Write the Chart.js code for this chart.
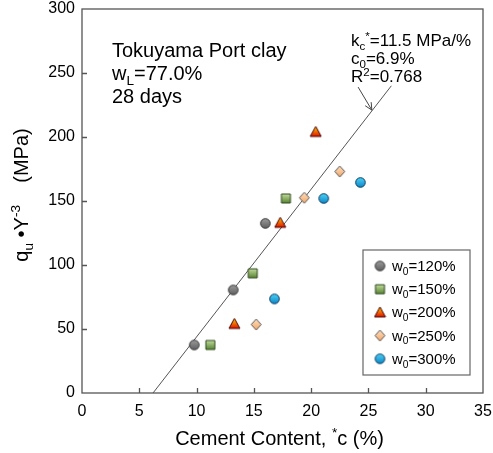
<!DOCTYPE html>
<html>
<head>
<meta charset="utf-8">
<script src="https://cdn.jsdelivr.net/npm/chart.js@4/dist/chart.umd.min.js"></script>
<style>
  html, body { margin: 0; padding: 0; background: #fff; }
</style>
</head>
<body>
<canvas id="chart" width="493" height="453"></canvas>
<script>
// data: cement content (%) vs qu*gamma^-3 (MPa)
const seriesNames = ['120%', '150%', '200%', '250%', '300%'];
const cement120 = [9.8, 13.2, 16.0];
const qu120 = [37.5, 80.5, 132.5];
const cement150 = [11.2, 14.9, 17.8];
const qu150 = [37.5, 93.5, 152];
const cement200 = [13.3, 17.3, 20.4];
const qu200 = [54, 133, 204];
const cement250 = [15.2, 19.4, 22.5];
const qu250 = [53.5, 152.5, 173];
const cement300 = [16.8, 21.1, 24.3];
const qu300 = [73.5, 152, 164.5];
// fitted line end points and arrow pointing at it
const fitX = [6.2, 27.0];
const fitY = [0, 240];
const arrowX = [24.1, 25.3];
const arrowY = [239, 221];
const xTicks = [0, 5, 10, 15, 20, 25, 30, 35];
const yTicks = [0, 50, 100, 150, 200, 250, 300];

const FONT = '"Liberation Sans", Arial, sans-serif';

// small marker images with gradient fill
function makeMarker(shape, top, bottom, edge) {
  const s = 13;
  const cv = document.createElement('canvas');
  cv.width = s; cv.height = s;
  const c = cv.getContext('2d');
  const g = c.createLinearGradient(0, 1, 0, s - 1);
  g.addColorStop(0, top);
  g.addColorStop(1, bottom);
  c.fillStyle = g;
  c.strokeStyle = edge;
  c.lineWidth = 1;
  c.beginPath();
  if (shape === 'circle') {
    c.arc(s / 2, s / 2, 4.8, 0, Math.PI * 2);
  } else if (shape === 'rect') {
    c.rect(2, 2, 9, 9);
  } else if (shape === 'triangle') {
    c.moveTo(s / 2, 1); c.lineTo(s - 1, s - 2); c.lineTo(1, s - 2); c.closePath();
  } else {
    c.moveTo(s / 2, 1); c.lineTo(s - 1.5, s / 2); c.lineTo(s / 2, s - 1); c.lineTo(1.5, s / 2); c.closePath();
  }
  c.fill();
  c.stroke();
  return cv;
}

const markers = [
  makeMarker('circle', '#a0a0a0', '#5a5a5a', '#333'),
  makeMarker('rect', '#cfe5a8', '#4b7a28', '#2e4a1c'),
  makeMarker('triangle', '#ffd000', '#dd0000', '#4a0000'),
  makeMarker('diamond', '#fde0c2', '#f3a565', '#555'),
  makeMarker('circle', '#4fd8fa', '#0a7fc2', '#0a3a60')
];

function pts(xs, ys) {
  return xs.map((x, i) => ({ x: x, y: ys[i] }));
}

const seriesData = [
  pts(cement120, qu120), pts(cement150, qu150), pts(cement200, qu200),
  pts(cement250, qu250), pts(cement300, qu300)
];

// text with sub/superscripts: parts = [[text, 'sub'|'sup'|undefined], ...]
function richWidth(ctx, parts, size) {
  let w = 0;
  parts.forEach(p => {
    ctx.font = (p[1] ? size * 0.68 : size) + 'px ' + FONT;
    w += ctx.measureText(p[0]).width;
  });
  return w;
}
function richText(ctx, parts, x, y, size) {
  let cx = x;
  parts.forEach(p => {
    const s = p[1] ? size * 0.68 : size;
    ctx.font = s + 'px ' + FONT;
    let dy = 0;
    if (p[1] === 'sub') dy = size * 0.25;
    if (p[1] === 'sup') dy = -size * 0.38;
    ctx.fillText(p[0], cx, y + dy);
    cx += ctx.measureText(p[0]).width;
  });
}

const decorations = {
  id: 'decorations',
  afterDatasetsDraw(chart) {
    const ctx = chart.ctx;
    const a = chart.chartArea;
    const xs = chart.scales.x, ys = chart.scales.y;
    ctx.save();
    // frame
    ctx.strokeStyle = '#555';
    ctx.lineWidth = 1.3;
    ctx.strokeRect(a.left, a.top, a.right - a.left, a.bottom - a.top);
    // inward ticks
    ctx.beginPath();
    xTicks.slice(1, -1).forEach(v => {
      const px = Math.round(xs.getPixelForValue(v)) + 0.5;
      ctx.moveTo(px, a.bottom); ctx.lineTo(px, a.bottom - 5);
    });
    yTicks.slice(1, -1).forEach(v => {
      const py = Math.round(ys.getPixelForValue(v)) + 0.5;
      ctx.moveTo(a.left, py); ctx.lineTo(a.left + 5, py);
    });
    ctx.stroke();

    // arrow to regression line
    const x0 = xs.getPixelForValue(arrowX[0]), y0 = ys.getPixelForValue(arrowY[0]);
    const x1 = xs.getPixelForValue(arrowX[1]), y1 = ys.getPixelForValue(arrowY[1]);
    const ang = Math.atan2(y1 - y0, x1 - x0);
    ctx.strokeStyle = '#444';
    ctx.lineWidth = 1;
    ctx.beginPath();
    ctx.moveTo(x0, y0); ctx.lineTo(x1, y1);
    ctx.moveTo(x1 - 8 * Math.cos(ang - 0.45), y1 - 8 * Math.sin(ang - 0.45));
    ctx.lineTo(x1, y1);
    ctx.lineTo(x1 - 8 * Math.cos(ang + 0.45), y1 - 8 * Math.sin(ang + 0.45));
    ctx.stroke();

    ctx.fillStyle = '#000';
    ctx.textBaseline = 'alphabetic';
    ctx.textAlign = 'left';
    // sample description
    richText(ctx, [['Tokuyama Port clay']], 112, 57, 20);
    richText(ctx, [['w'], ['L', 'sub'], ['=77.0%']], 112, 80, 20);
    richText(ctx, [['28 days']], 112, 103, 20);
    // fit parameters
    richText(ctx, [['k'], ['c', 'sub'], ['*', 'sup'], ['=11.5 MPa/%']], 351, 46, 17);
    richText(ctx, [['c'], ['0', 'sub'], ['=6.9%']], 351, 64, 17);
    richText(ctx, [['R'], ['2', 'sup'], ['=0.768']], 351, 82, 17);

    // legend
    const lx = 363, ly = 250, lw = 107, lh = 125;
    ctx.fillStyle = '#fff';
    ctx.fillRect(lx, ly, lw, lh);
    ctx.strokeStyle = '#666';
    ctx.lineWidth = 1.2;
    ctx.strokeRect(lx, ly, lw, lh);
    ctx.fillStyle = '#000';
    seriesNames.forEach((name, i) => {
      const cy = ly + 16 + i * 23.2;
      const m = markers[i];
      ctx.drawImage(m, 380 - m.width / 2, cy - m.height / 2);
      richText(ctx, [['w'], ['0', 'sub'], ['=' + name]], 392, cy + 5, 15);
    });

    // axis titles
    const xt = [['Cement Content, '], ['*', 'sup'], ['c (%)']];
    const xw = richWidth(ctx, xt, 20);
    richText(ctx, xt, (a.left + a.right) / 2 - xw / 2 - 3, 445, 20);
    const yt = [['q'], ['u', 'sub'], [' \u2022Y'], ['-3', 'sup'], ['    (MPa)']];
    const yw = richWidth(ctx, yt, 20);
    ctx.translate(28, 195);
    ctx.rotate(-Math.PI / 2);
    richText(ctx, yt, -yw / 2, 0, 20);
    ctx.restore();
  }
};

const datasets = seriesData.map((d, i) => ({
  label: 'w0=' + seriesNames[i],
  data: d,
  showLine: false,
  pointStyle: markers[i],
  pointRadius: 6,
  order: 1
}));
datasets.push({
  label: 'fit',
  type: 'line',
  data: pts(fitX, fitY),
  borderColor: '#555',
  borderWidth: 1,
  pointRadius: 0,
  order: 2
});

new Chart(document.getElementById('chart'), {
  type: 'scatter',
  data: { datasets: datasets },
  options: {
    responsive: false,
    animation: false,
    layout: { padding: { top: 9, right: 10, left: 0, bottom: 0 } },
    plugins: { legend: { display: false }, tooltip: { enabled: false } },
    scales: {
      x: {
        min: 0, max: 35,
        afterBuildTicks: s => { s.ticks = xTicks.map(v => ({ value: v })); },
        afterFit: s => { s.height = 60; s.paddingLeft = 0; s.paddingRight = 0; },
        grid: { display: false, drawTicks: false },
        border: { display: false },
        ticks: { color: '#000', padding: 9, font: { family: FONT, size: 16 }, maxRotation: 0 }
      },
      y: {
        min: 0, max: 300,
        afterBuildTicks: s => { s.ticks = yTicks.map(v => ({ value: v })); },
        afterFit: s => { s.width = 82; s.paddingTop = 0; s.paddingBottom = 0; },
        grid: { display: false, drawTicks: false },
        border: { display: false },
        ticks: { color: '#000', padding: 7, font: { family: FONT, size: 16 } }
      }
    }
  },
  plugins: [decorations]
});
</script>
</body>
</html>
